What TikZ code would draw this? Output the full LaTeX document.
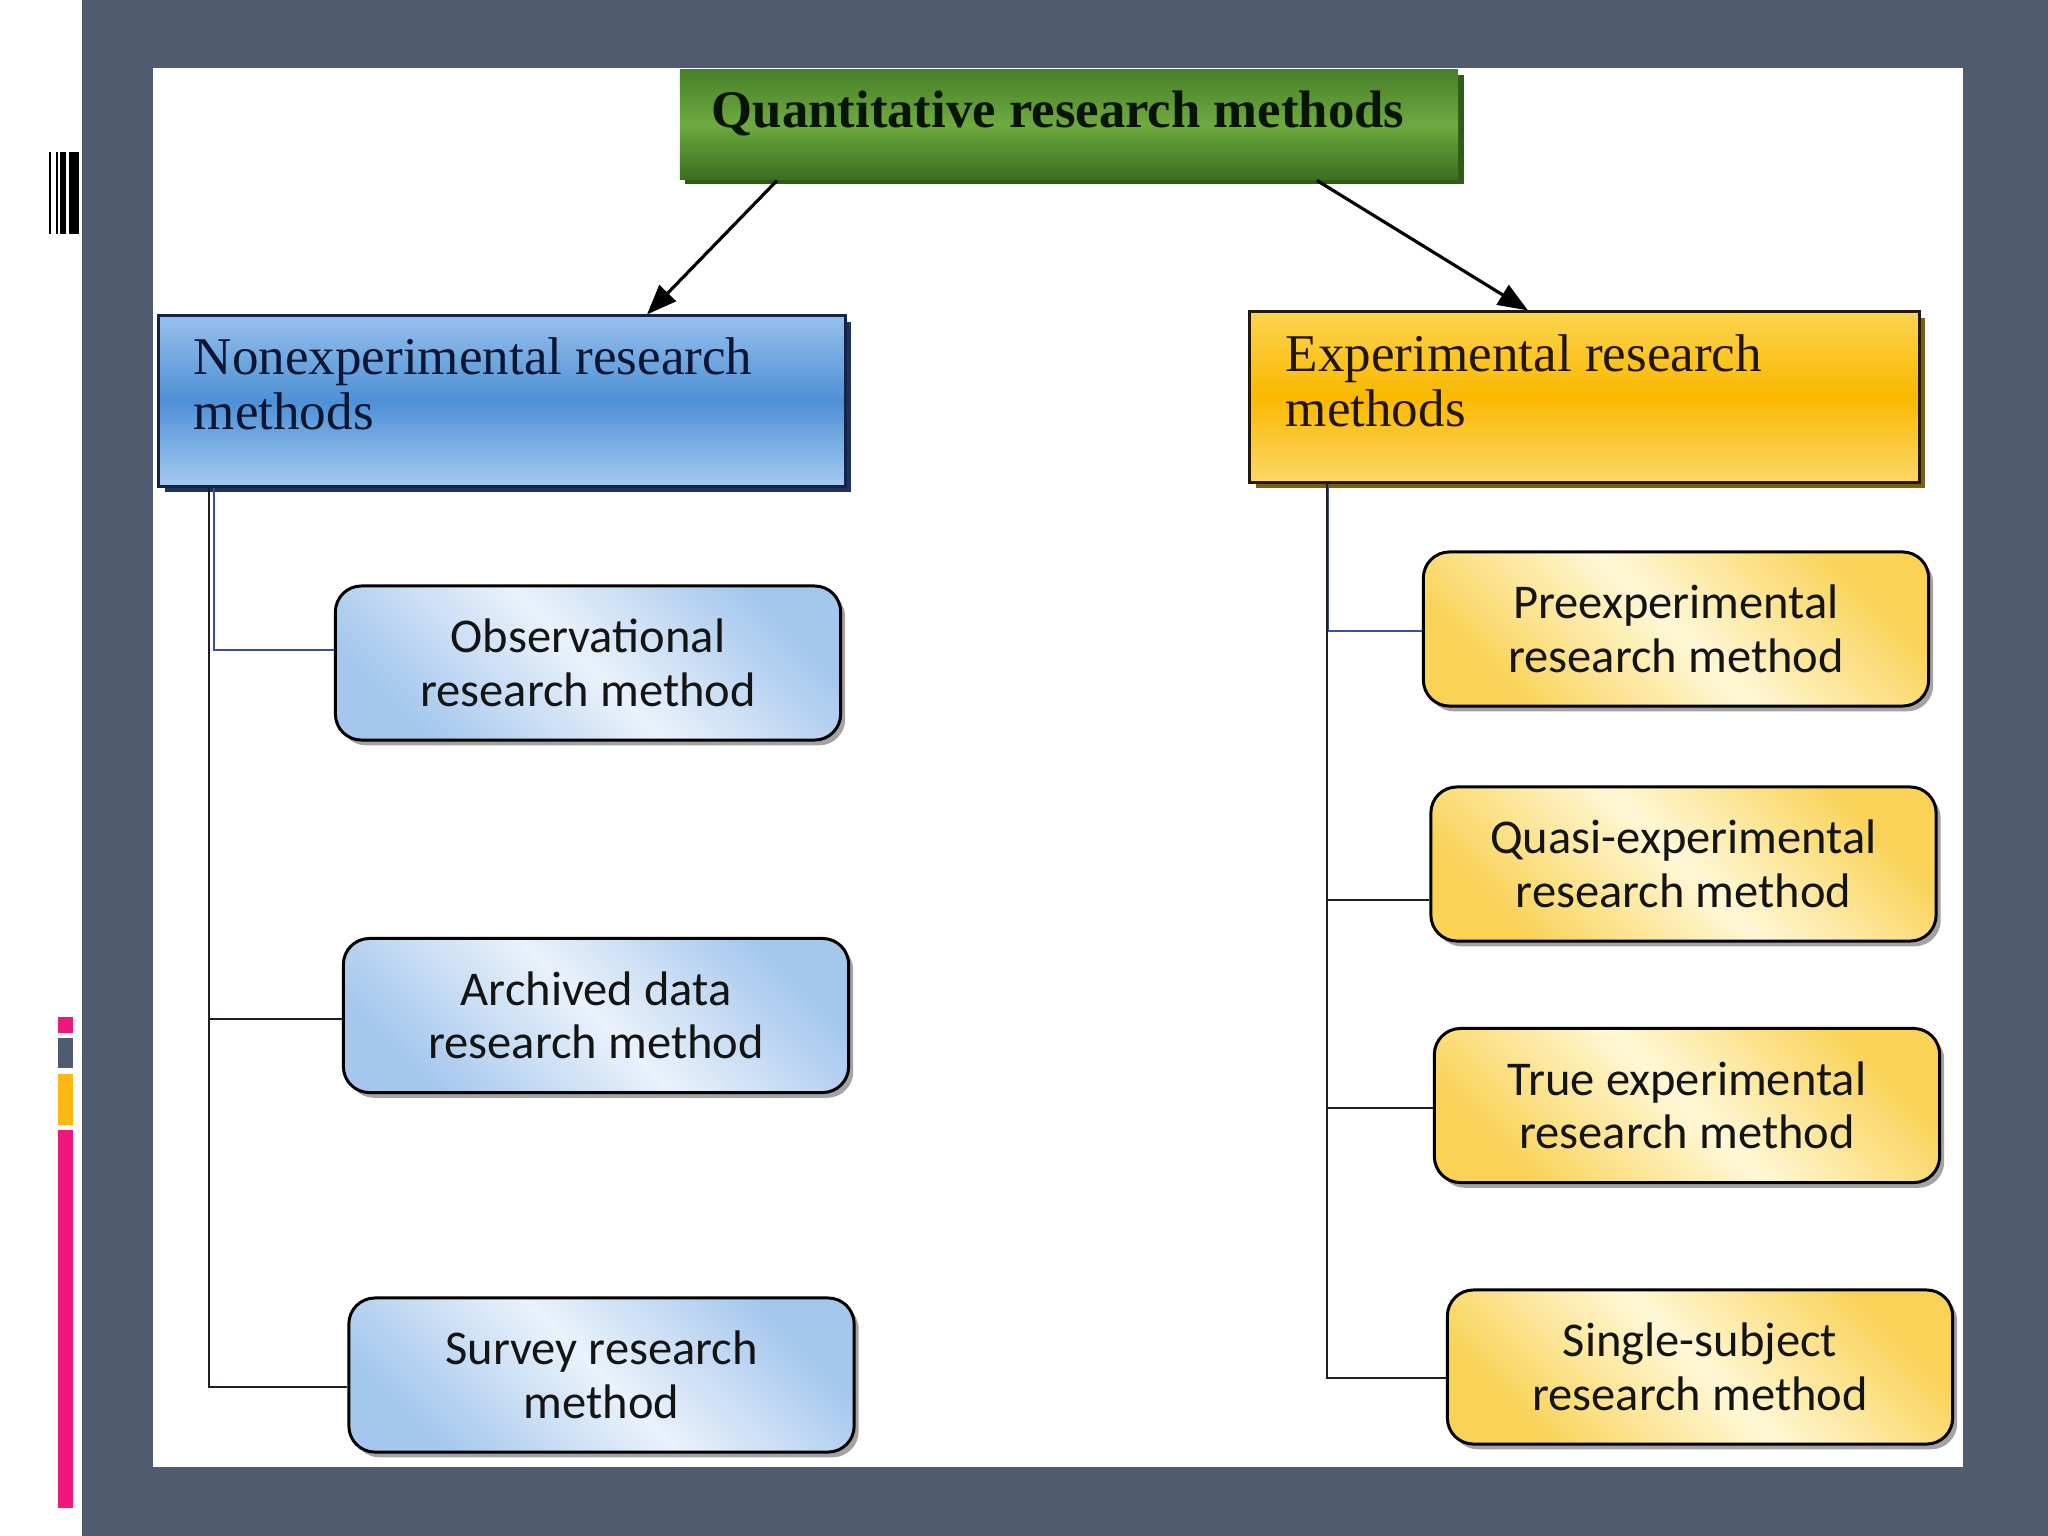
\documentclass[tikz,border=0pt]{standalone}
\usepackage{fontspec}
\setmainfont{Liberation Serif}
\newfontfamily\boxfont{Carlito}
\usetikzlibrary{arrows.meta,shadows}
\definecolor{panel}{RGB}{79,91,110}
\definecolor{pinkbar}{RGB}{236,24,124}
\definecolor{yelbar}{RGB}{253,184,19}
\definecolor{grtop}{RGB}{72,128,40}
\definecolor{grmid}{RGB}{110,170,64}
\definecolor{grbot}{RGB}{60,110,32}
\definecolor{grshadow}{RGB}{48,92,24}
\definecolor{grtext}{RGB}{8,20,4}
\definecolor{bltop}{RGB}{150,192,236}
\definecolor{blmid}{RGB}{78,144,214}
\definecolor{blbot}{RGB}{165,202,240}
\definecolor{blborder}{RGB}{20,35,70}
\definecolor{blshadow}{RGB}{30,50,95}
\definecolor{bltext}{RGB}{10,22,50}
\definecolor{gdtop}{RGB}{252,212,80}
\definecolor{gdmid}{RGB}{250,184,0}
\definecolor{gdbot}{RGB}{253,216,104}
\definecolor{gdborder}{RGB}{35,25,5}
\definecolor{gdshadow}{RGB}{120,95,20}
\definecolor{gdtext}{RGB}{35,22,0}
\definecolor{rbdark}{RGB}{165,199,237}
\definecolor{rblight}{RGB}{234,242,251}
\definecolor{rydark}{RGB}{249,210,86}
\definecolor{rylight}{RGB}{255,248,215}
\definecolor{boxtext}{RGB}{20,20,20}
\definecolor{linkblue}{RGB}{60,80,150}
\definecolor{linkdark}{RGB}{30,30,40}
\tikzset{
  hdrbox/.style={rectangle, inner sep=0pt, line width=0.85pt},
  hdrtxt/.style={inner sep=0pt, align=left, font=\fontsize{15.1}{15.6}\selectfont, anchor=north west},
  rbox/.style={rectangle, rounded corners=7.4pt, draw=black, line width=0.85pt,
    minimum width=5.05cm, minimum height=1.54cm, align=center, inner sep=0pt,
    font=\boxfont\fontsize{13.8}{15.2}\selectfont, text=boxtext,
    drop shadow={shadow xshift=1.3pt, shadow yshift=-1.5pt, fill=black!65, opacity=0.55}},
  bluebox/.style={rbox, top color=rbdark, bottom color=rbdark, middle color=rblight, shading angle=-45},
  yelbox/.style={rbox, top color=rydark, bottom color=rydark, middle color=rylight, shading angle=-45},
  arr/.style={line width=0.9pt, -{Triangle[length=8.5pt,width=6.5pt]}},
  trunk/.style={line width=0.6pt, draw=linkdark},
  bluelink/.style={line width=0.5pt, draw=linkblue}
}
\begin{document}
\begin{tikzpicture}[x=0.01cm,y=-0.01cm]
\useasboundingbox (0,0) rectangle (2048,1536);
% background
\fill[white] (0,0) rectangle (2048,1536);
\fill[panel] (82,0) rectangle (2048,1536);
\fill[white] (153,68) rectangle (1963,1467);
% barcode
\fill[black] (49,152) rectangle (51.3,234);
\fill[black] (55.7,152) rectangle (58.3,234);
\fill[black] (60,152) rectangle (66.3,234);
\fill[black] (69,152) rectangle (79.3,234);
% colour bars
\fill[pinkbar] (58,1017) rectangle (73,1033);
\fill[panel] (58,1038) rectangle (73,1068);
\fill[yelbar] (58,1074) rectangle (73,1125);
\fill[pinkbar] (58,1130) rectangle (73,1508);

% title
\node[hdrbox, top color=grtop, bottom color=grbot, middle color=grmid,
  drop shadow={shadow xshift=1.5pt, shadow yshift=-1.5pt, fill=grshadow, opacity=1},
  minimum width=7.78cm, minimum height=1.09cm] (title) at (1069,124.5) {};
\node[inner sep=0pt, font=\bfseries\fontsize{15}{18}\selectfont, text=grtext, anchor=base] (titletxt) at (1058,127) {Quantitative research methods};

% headers
\node[hdrbox, draw=blborder, top color=bltop, bottom color=blbot, middle color=blmid,
  drop shadow={shadow xshift=1.7pt, shadow yshift=-1.7pt, fill=blshadow, opacity=1},
  minimum width=6.86cm, minimum height=1.70cm] (nonexp) at (502,401) {};
\node[hdrtxt, text=bltext] (nonexptxt) at (193,337) {Nonexperimental research\\methods};

\node[hdrbox, draw=gdborder, top color=gdtop, bottom color=gdbot, middle color=gdmid,
  drop shadow={shadow xshift=1.7pt, shadow yshift=-1.7pt, fill=gdshadow, opacity=1},
  minimum width=6.69cm, minimum height=1.70cm] (exp) at (1584.5,397) {};
\node[hdrtxt, text=gdtext] (exptxt) at (1285,334) {Experimental research\\methods};

% arrows
\draw[arr] (777,0 |- title.south) -- (647,0 |- nonexp.north);
\draw[arr] (1317,0 |- title.south) -- (1528,0 |- exp.north);

% left children
\node[bluebox] (obs) at (588,663) {Observational\\research method};
\node[bluebox] (arch) at (596,1015.5) {Archived data\\research method};
\node[bluebox] (surv) at (601.5,1375) {Survey research\\method};

% right children
\node[yelbox] (pre) at (1676,629) {Preexperimental\\research method};
\node[yelbox] (quasi) at (1683.5,864) {Quasi-experimental\\research method};
\node[yelbox] (true) at (1687,1105.5) {True experimental\\research method};
\node[yelbox] (single) at (1700,1367) {Single-subject\\research method};

% left connectors
\draw[trunk] (209,0 |- nonexp.south) |- (surv.west |- 0,1387);
\draw[trunk] (209,0 |- 0,1019) -- (arch.west |- 0,1019);
\draw[bluelink] (214,0 |- nonexp.south) |- (obs.west |- 0,650);

% right connectors
\draw[trunk] (1327,0 |- exp.south) |- (single.west |- 0,1378);
\draw[trunk] (1327,900) -- (quasi.west |- 0,900);
\draw[trunk] (1327,1108) -- (true.west |- 0,1108);
\draw[bluelink] (1328.5,0 |- exp.south) |- (pre.west |- 0,631);
\end{tikzpicture}
\end{document}
